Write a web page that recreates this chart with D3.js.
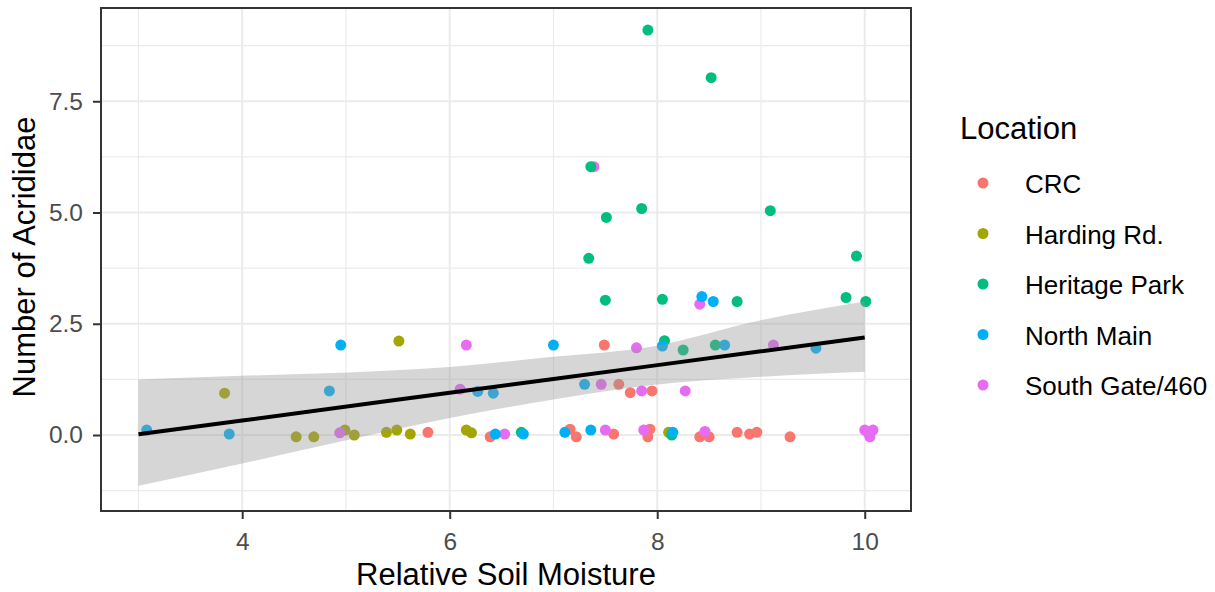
<!DOCTYPE html>
<html>
<head>
<meta charset="utf-8">
<script src="https://cdn.jsdelivr.net/npm/d3@7"></script>
<style>
  body { margin: 0; background: #fff; }
  text { font-family: "Liberation Sans", Arial, sans-serif; }
</style>
</head>
<body>
<svg id="chart"></svg>
<script>
const W = 1215, H = 592;

// legend categories + ggplot hue colours
const locations = ["CRC", "Harding Rd.", "Heritage Park", "North Main", "South Gate/460"];
const colors = ["#F8766D", "#A3A500", "#00BF7D", "#00B0F6", "#E76BF3"];

const crcX = [7.49, 7.63, 7.74, 7.95, 5.79, 6.39, 7.16, 7.22, 7.58, 7.93, 7.91, 8.41, 8.50, 8.77, 8.89, 8.96, 9.28];
const crcY = [2.02, 1.14, 0.95, 0.99, 0.06, -0.04, 0.13, -0.04, 0.02, 0.13, -0.04, -0.04, -0.04, 0.06, 0.02, 0.06, -0.04];
const hardingX = [3.83, 4.52, 4.69, 4.99, 5.08, 5.51, 5.39, 5.49, 5.62, 6.16, 6.21, 8.11];
const hardingY = [0.94, -0.04, -0.04, 0.11, 0.0, 2.11, 0.06, 0.11, 0.02, 0.11, 0.05, 0.06];
const heritageX = [7.91, 8.52, 7.36, 7.51, 7.85, 9.09, 7.34, 9.92, 7.50, 8.05, 8.77, 9.82, 10.01, 8.07, 8.25, 8.56, 6.69, 8.14];
const heritageY = [9.10, 8.03, 6.03, 4.89, 5.09, 5.04, 3.97, 4.02, 3.03, 3.05, 3.0, 3.09, 3.0, 2.12, 1.91, 2.02, 0.06, 0.0];
const northX = [3.08, 3.875, 4.95, 4.84, 7.0, 6.27, 6.42, 7.30, 6.44, 6.71, 7.11, 7.36, 8.15, 8.43, 8.54, 8.05, 8.65, 9.53];
const northY = [0.11, 0.02, 2.02, 0.99, 2.02, 0.98, 0.94, 1.14, 0.02, 0.02, 0.06, 0.11, 0.06, 3.11, 3.0, 2.0, 2.02, 1.95];
const southX = [4.94, 6.16, 7.80, 6.10, 7.46, 7.85, 6.53, 7.50, 7.87, 8.46, 10.0, 10.08, 10.05, 10.03, 8.41, 9.12, 8.27, 7.39];
const southY = [0.05, 2.02, 1.96, 1.03, 1.14, 0.99, 0.02, 0.11, 0.11, 0.08, 0.11, 0.11, -0.04, 0.06, 2.94, 2.02, 0.99, 6.03];

// linear fit and its confidence band
const fitX = [3.0, 4.0, 5.33, 6.0, 7.0, 7.93, 9.0, 10.0];
const fitY = [0.015, 0.326, 0.74, 0.948, 1.259, 1.548, 1.881, 2.192];
const fitLo = [-1.14, -0.64, 0.05, 0.38, 0.80, 1.12, 1.31, 1.42];
const fitHi = [1.25, 1.33, 1.44, 1.53, 1.76, 1.98, 2.58, 3.0];

const xMajor = [4, 6, 8, 10];
const xMinor = [3, 5, 7, 9];
const yMajor = [0, 2.5, 5, 7.5];
const yMinor = [-1.25, 1.25, 3.75, 6.25, 8.75];

const panel = { left: 101, top: 8, right: 911, bottom: 511 };

const x = d3.scaleLinear().domain([2.639, 10.446]).range([panel.left, panel.right]);
const y = d3.scaleLinear().domain([-1.708, 9.596]).range([panel.bottom, panel.top]);

const svg = d3.select("#chart").attr("width", W).attr("height", H);

// grid
const grid = svg.append("g");
grid.selectAll(".xmin").data(xMinor).enter().append("line")
  .attr("x1", d => x(d)).attr("x2", d => x(d))
  .attr("y1", panel.top).attr("y2", panel.bottom)
  .attr("stroke", "#ebebeb").attr("stroke-width", 1.2);
grid.selectAll(".ymin").data(yMinor).enter().append("line")
  .attr("y1", d => y(d)).attr("y2", d => y(d))
  .attr("x1", panel.left).attr("x2", panel.right)
  .attr("stroke", "#ebebeb").attr("stroke-width", 1.2);
grid.selectAll(".xmaj").data(xMajor).enter().append("line")
  .attr("x1", d => x(d)).attr("x2", d => x(d))
  .attr("y1", panel.top).attr("y2", panel.bottom)
  .attr("stroke", "#ebebeb").attr("stroke-width", 2);
grid.selectAll(".ymaj").data(yMajor).enter().append("line")
  .attr("y1", d => y(d)).attr("y2", d => y(d))
  .attr("x1", panel.left).attr("x2", panel.right)
  .attr("stroke", "#ebebeb").attr("stroke-width", 2);

// points, drawn group by group
const groups = [
  { i: 0, xs: crcX, ys: crcY },
  { i: 1, xs: hardingX, ys: hardingY },
  { i: 4, xs: southX, ys: southY },
  { i: 2, xs: heritageX, ys: heritageY },
  { i: 3, xs: northX, ys: northY }
];
const pts = svg.append("g");
groups.forEach(g => {
  pts.selectAll(null).data(g.xs.map((v, k) => [v, g.ys[k]])).enter().append("circle")
    .attr("cx", d => x(d[0])).attr("cy", d => y(d[1]))
    .attr("r", 5.5).attr("fill", colors[g.i]);
});

// confidence band + fit
const band = fitX.map((v, k) => ({ x: v, lo: fitLo[k], hi: fitHi[k], fit: fitY[k] }));
svg.append("path").datum(band)
  .attr("d", d3.area().x(d => x(d.x)).y0(d => y(d.lo)).y1(d => y(d.hi)).curve(d3.curveMonotoneX))
  .attr("fill", "#999999").attr("fill-opacity", 0.4);
svg.append("path").datum(band)
  .attr("d", d3.line().x(d => x(d.x)).y(d => y(d.fit)))
  .attr("fill", "none").attr("stroke", "#000").attr("stroke-width", 4);

// panel border
svg.append("rect")
  .attr("x", panel.left).attr("y", panel.top)
  .attr("width", panel.right - panel.left).attr("height", panel.bottom - panel.top)
  .attr("fill", "none").attr("stroke", "#333333").attr("stroke-width", 2);

// axes
const xAxis = svg.append("g").attr("transform", `translate(0,${panel.bottom})`)
  .call(d3.axisBottom(x).tickValues(xMajor).tickFormat(d3.format("d")).tickSize(8).tickPadding(14));
const yAxis = svg.append("g").attr("transform", `translate(${panel.left},0)`)
  .call(d3.axisLeft(y).tickValues(yMajor).tickFormat(d3.format(".1f")).tickSize(8).tickPadding(10));
[xAxis, yAxis].forEach(a => {
  a.select(".domain").remove();
  a.selectAll(".tick line").attr("stroke", "#333333").attr("stroke-width", 2);
  a.selectAll(".tick text").attr("fill", "#4d4d4d").attr("font-size", 24.5)
    .attr("font-family", "'Liberation Sans', Arial, sans-serif");
});

// axis titles
svg.append("text")
  .attr("x", (panel.left + panel.right) / 2).attr("y", 585)
  .attr("text-anchor", "middle").attr("font-size", 31).attr("fill", "#000")
  .text("Relative Soil Moisture");
svg.append("text")
  .attr("transform", `translate(35,257) rotate(-90)`)
  .attr("text-anchor", "middle").attr("font-size", 31).attr("fill", "#000")
  .text("Number of Acrididae");

// legend
const legend = svg.append("g");
legend.append("text").attr("x", 960).attr("y", 139)
  .attr("font-size", 31).attr("fill", "#000").text("Location");
const keys = legend.selectAll(".key").data(locations).enter().append("g")
  .attr("transform", (d, i) => `translate(0,${183 + i * 50.5})`);
keys.append("circle").attr("cx", 983).attr("cy", 0).attr("r", 5.5)
  .attr("fill", (d, i) => colors[i]);
keys.append("text").attr("x", 1025).attr("y", 10)
  .attr("font-size", 26).attr("fill", "#000").text(d => d);
</script>
</body>
</html>
